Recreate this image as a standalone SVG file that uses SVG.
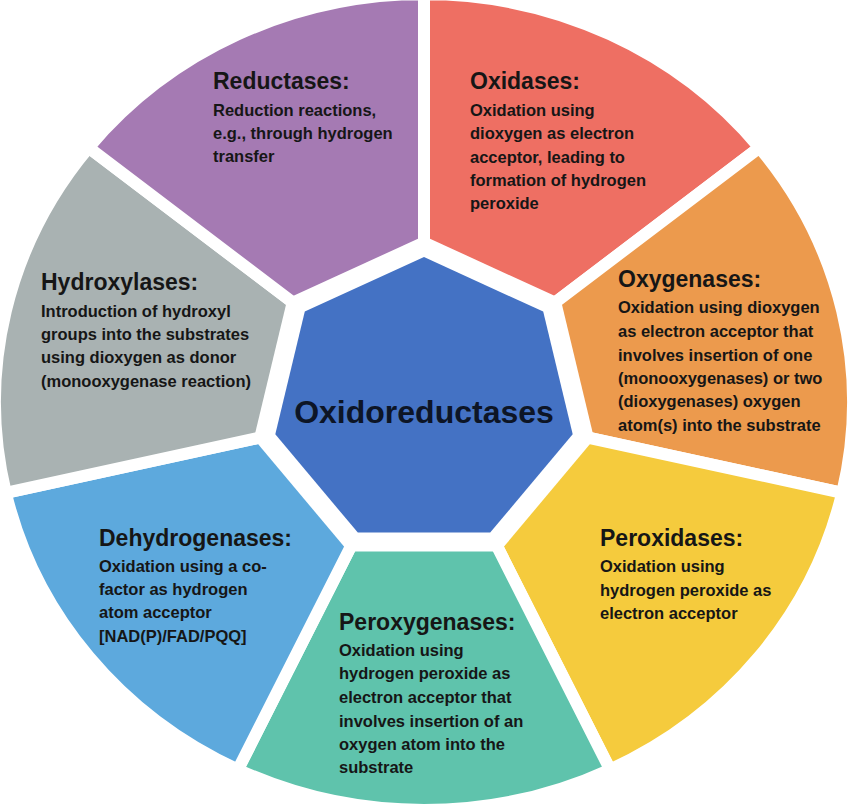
<svg xmlns="http://www.w3.org/2000/svg" width="850" height="807" viewBox="0 0 850 807">
<style>
.sector{stroke:#fff;stroke-width:12;stroke-linejoin:miter}
.t{font-family:"Liberation Sans",Arial,sans-serif;font-weight:bold;font-size:23px;fill:#161616}
.b{font-family:"Liberation Sans",Arial,sans-serif;font-weight:bold;font-size:16.5px;fill:#161616}
.c{font-family:"Liberation Sans",Arial,sans-serif;font-weight:bold;font-size:32px;fill:#0d1526}
</style>
<rect width="850" height="807" fill="#fff"/>
<g id="oxidases">
<path class="sector" fill="#EE6F63" d="M424 402 L424 -6 A429 408 0 0 1 759.4 147.6 Z"/>
<text class="t" x="470" y="89">Oxidases:</text>
<text class="b" x="470" y="116">Oxidation using</text>
<text class="b" x="470" y="139">dioxygen as electron</text>
<text class="b" x="470" y="163">acceptor, leading to</text>
<text class="b" x="470" y="186">formation of hydrogen</text>
<text class="b" x="470" y="209">peroxide</text>
</g>
<g id="oxygenases">
<path class="sector" fill="#EC9A4D" d="M424 402 L759.4 147.6 A429 408 0 0 1 842.2 492.8 Z"/>
<text class="t" x="618" y="287">Oxygenases:</text>
<text class="b" x="618" y="313">Oxidation using dioxygen</text>
<text class="b" x="618" y="337">as electron acceptor that</text>
<text class="b" x="618" y="361">involves insertion of one</text>
<text class="b" x="618" y="384">(monooxygenases) or two</text>
<text class="b" x="618" y="407">(dioxygenases) oxygen</text>
<text class="b" x="618" y="431">atom(s) into the substrate</text>
</g>
<g id="peroxidases">
<path class="sector" fill="#F5CB3D" d="M424 402 L842.2 492.8 A429 408 0 0 1 610.1 769.6 Z"/>
<text class="t" x="600" y="546">Peroxidases:</text>
<text class="b" x="600" y="572">Oxidation using</text>
<text class="b" x="600" y="596">hydrogen peroxide as</text>
<text class="b" x="600" y="619">electron acceptor</text>
</g>
<g id="peroxygenases">
<path class="sector" fill="#5FC3AC" d="M424 402 L610.1 769.6 A429 408 0 0 1 237.9 769.6 Z"/>
<text class="t" x="339" y="630">Peroxygenases:</text>
<text class="b" x="339" y="656">Oxidation using</text>
<text class="b" x="339" y="679">hydrogen peroxide as</text>
<text class="b" x="339" y="703">electron acceptor that</text>
<text class="b" x="339" y="727">involves insertion of an</text>
<text class="b" x="339" y="750">oxygen atom into the</text>
<text class="b" x="339" y="773">substrate</text>
</g>
<g id="dehydrogenases">
<path class="sector" fill="#5DA9DD" d="M424 402 L237.9 769.6 A429 408 0 0 1 5.8 492.8 Z"/>
<text class="t" x="99" y="546">Dehydrogenases:</text>
<text class="b" x="99" y="572">Oxidation using a co-</text>
<text class="b" x="99" y="595">factor as hydrogen</text>
<text class="b" x="99" y="618">atom acceptor</text>
<text class="b" x="99" y="642">[NAD(P)/FAD/PQQ]</text>
</g>
<g id="hydroxylases">
<path class="sector" fill="#A9B2B2" d="M424 402 L5.8 492.8 A429 408 0 0 1 88.6 147.6 Z"/>
<text class="t" x="41" y="290">Hydroxylases:</text>
<text class="b" x="41" y="317">Introduction of hydroxyl</text>
<text class="b" x="41" y="340">groups into the substrates</text>
<text class="b" x="41" y="363">using dioxygen as donor</text>
<text class="b" x="41" y="387">(monooxygenase reaction)</text>
</g>
<g id="reductases">
<path class="sector" fill="#A57AB3" d="M424 402 L88.6 147.6 A429 408 0 0 1 424 -6 Z"/>
<text class="t" x="213" y="89">Reductases:</text>
<text class="b" x="213" y="116">Reduction reactions,</text>
<text class="b" x="213" y="139">e.g., through hydrogen</text>
<text class="b" x="213" y="162">transfer</text>
</g>
<g id="connectors"></g>
<g id="oxidoreductases">
<polygon fill="#fff" points="424,236 560.5,298.5 594.2,438.9 499.8,551.6 348.2,551.6 253.8,438.9 287.5,298.5"/>
<polygon fill="#4472C4" points="424,257 543.2,311.6 572.7,434.3 490.2,532.6 357.8,532.6 275.3,434.3 304.8,311.6"/>
<text class="c" x="424" y="423" text-anchor="middle">Oxidoreductases</text>
</g>
</svg>
